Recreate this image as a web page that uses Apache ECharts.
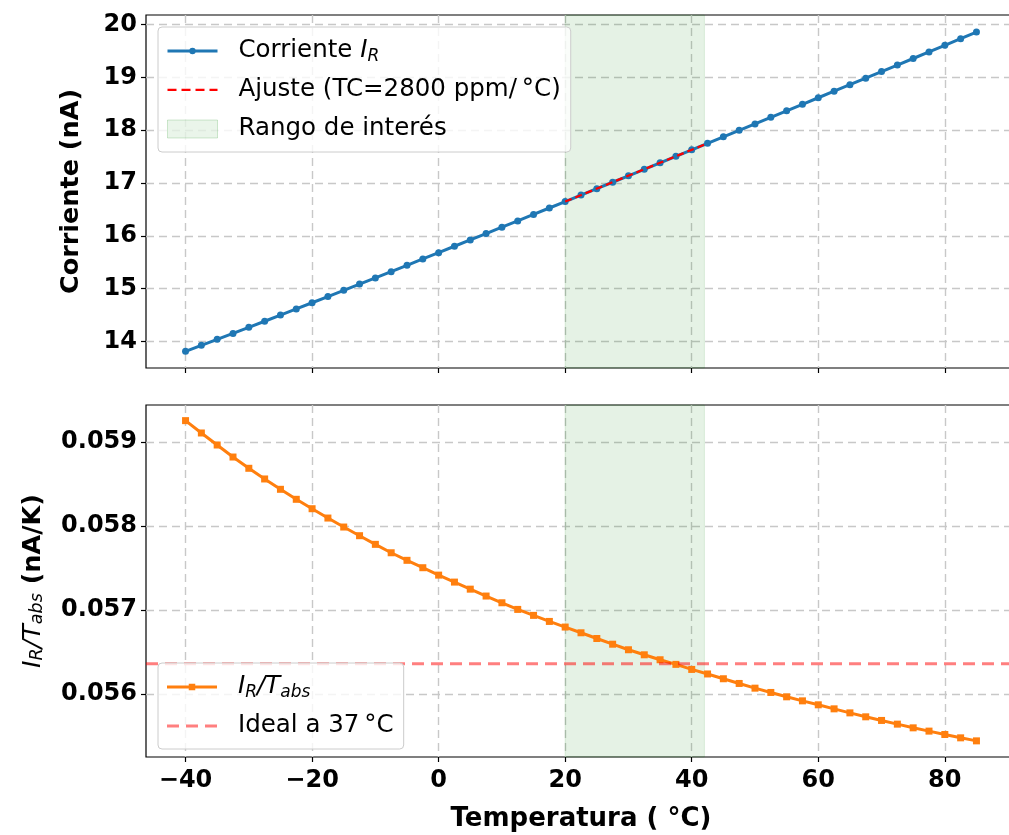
<!DOCTYPE html>
<html>
<head>
<meta charset="utf-8">
<script src="https://cdn.jsdelivr.net/npm/echarts@6/dist/echarts.min.js"></script>
<style>html,body{margin:0;padding:0;background:#fff;overflow:hidden}#main{width:1016px;height:835px}</style>
</head>
<body>
<div id="main"></div>
<script>
// temperatura (°C), corriente (nA) y cociente I_R/T_abs (nA/K)
var temps = [-40, -37.5, -35, -32.5, -30, -27.5, -25, -22.5, -20, -17.5, -15, -12.5, -10, -7.5, -5, -2.5,
  0, 2.5, 5, 7.5, 10, 12.5, 15, 17.5, 20, 22.5, 25, 27.5, 30, 32.5, 35, 37.5, 40, 42.5, 45, 47.5,
  50, 52.5, 55, 57.5, 60, 62.5, 65, 67.5, 70, 72.5, 75, 77.5, 80, 82.5, 85];
var current = [13.815, 13.929, 14.042, 14.155, 14.270, 14.385, 14.501, 14.617, 14.735, 14.852,
  14.970, 15.088, 15.205, 15.323, 15.443, 15.563, 15.683, 15.804, 15.924, 16.044,
  16.164, 16.284, 16.406, 16.528, 16.650, 16.772, 16.894, 17.015, 17.136, 17.259,
  17.382, 17.506, 17.628, 17.752, 17.875, 17.997, 18.119, 18.243, 18.366, 18.490,
  18.614, 18.738, 18.861, 18.984, 19.109, 19.233, 19.357, 19.482, 19.607, 19.731, 19.857];
var ratio = [0.059254, 0.059107, 0.058964, 0.058821, 0.058687, 0.058560, 0.058437, 0.058318, 0.058206, 0.058095,
  0.057988, 0.057885, 0.057782, 0.057682, 0.057592, 0.057504, 0.057416, 0.057333, 0.057249, 0.057167,
  0.057087, 0.057008, 0.056937, 0.056865, 0.056798, 0.056730, 0.056662, 0.056594, 0.056528, 0.056468,
  0.056409, 0.056354, 0.056294, 0.056240, 0.056183, 0.056127, 0.056071, 0.056020, 0.055968, 0.055920,
  0.055873, 0.055825, 0.055777, 0.055730, 0.055687, 0.055643, 0.055599, 0.055560, 0.055520, 0.055480, 0.055444];
var fitTemps = [20, 42];
var fitCurrent = [16.649, 17.727];
var spanRange = [20, 42];
var idealRatio = 0.056361;
var xRange = [-46.25, 91.25];
var xTicks = [-40, -20, 0, 20, 40, 60, 80];
var currentTicks = [14, 15, 16, 17, 18, 19, 20];
var ratioTicks = [0.056, 0.057, 0.058, 0.059];

function pairs(xs, ys) {
  return xs.map(function (x, i) { return [x, ys[i]]; });
}

var myChart = echarts.init(document.getElementById('main'));
var FONT = 'DejaVu Sans';
var gridLine = { show: true, lineStyle: { color: '#c8c8c8', type: [8, 5], width: 1.4 } };
var tickStyle = { color: '#000', width: 1.2 };
var tickFont = { fontFamily: FONT, fontSize: 24, fontWeight: 'bold', color: '#000' };
var LF = 24.5;
var mathRich = {
  i: { fontFamily: FONT, fontStyle: 'italic', fontWeight: 'normal', fontSize: LF, color: '#000' },
  s: { fontFamily: FONT, fontStyle: 'italic', fontWeight: 'normal', fontSize: 17, color: '#000', verticalAlign: 'bottom' }
};
var legendText = {
  'Corriente': 'Corriente {i|I}{s|R}',
  'Ajuste': 'Ajuste (TC=2800 ppm/\u2009°C)',
  'Rango': 'Rango de interés',
  'Cociente': '{i|I}{s|R}{i|/T}{s|abs}',
  'Ideal': 'Ideal a 37\u2009°C'
};
// iconos de leyenda: línea con marcador / líneas discontinuas
var icons = {
  lineDot: 'path://M0,2.25h50v3h-50z M25,0.5a3.25,3.25 0 1,1 0,6.5a3.25,3.25 0 1,1 0,-6.5z',
  lineSquare: 'path://M0,2.25h50v3h-50z M21.75,0.5h6.5v6.5h-6.5z',
  dashFine: 'path://M0,2.5h9v2.2h-9z M14,2.5h9v2.2h-9z M28,2.5h9v2.2h-9z M42,2.5h8v2.2h-8z M0,0h0.01v7.5h-0.01z',
  dashWide: 'path://M0,2.25h12v3h-12z M19,2.25h12v3h-12z M38,2.25h12v3h-12z M0,0h0.01v7.5h-0.01z'
};

function xAxisCfg(idx, withLabels) {
  var ax = {
    type: 'value', gridIndex: idx, min: xRange[0], max: xRange[1], splitNumber: 7,
    axisLine: { show: false, onZero: false },
    axisTick: { show: true, length: 5, lineStyle: tickStyle, customValues: xTicks },
    axisLabel: {
      show: withLabels, customValues: xTicks, margin: 12,
      formatter: function (v) { return v < 0 ? '\u2212' + (-v) : String(v); }
    },
    splitLine: gridLine
  };
  Object.assign(ax.axisLabel, tickFont);
  if (withLabels) {
    ax.name = 'Temperatura ( °C)';
    ax.nameLocation = 'middle';
    ax.nameGap = 49;
    ax.nameTextStyle = { fontFamily: FONT, fontSize: 26, fontWeight: 'bold', color: '#000' };
  }
  return ax;
}

function legendCfg(top, items) {
  return {
    left: 158, top: top, orient: 'vertical', z: 10, selectedMode: false,
    data: items, itemWidth: 50, itemHeight: 18, itemGap: 11,
    padding: [10, 10, 9, 9],
    backgroundColor: 'rgba(255,255,255,0.8)', borderColor: '#cccccc', borderWidth: 1, borderRadius: 4,
    formatter: function (n) { return legendText[n]; },
    textStyle: { fontFamily: FONT, fontSize: LF, color: '#000', lineHeight: 28, padding: [0, 0, 0, 16], rich: mathRich }
  };
}

var noBorder = { borderWidth: 0 };

var option = {
  animation: false,
  backgroundColor: '#fff',
  grid: [
    { left: 146, top: 15, right: 0, height: 353, show: true, borderColor: '#000', borderWidth: 1.2 },
    { left: 146, top: 405, right: 0, height: 352, show: true, borderColor: '#000', borderWidth: 1.2 }
  ],
  xAxis: [xAxisCfg(0, false), xAxisCfg(1, true)],
  yAxis: [
    {
      type: 'value', gridIndex: 0, min: 13.50, max: 20.18, splitNumber: 6,
      axisLine: { show: false, onZero: false },
      axisTick: { show: true, length: 5, lineStyle: tickStyle, customValues: currentTicks },
      axisLabel: Object.assign({ customValues: currentTicks, margin: 9 }, tickFont),
      splitLine: gridLine,
      name: 'Corriente (nA)', nameLocation: 'middle', nameGap: 62,
      nameTextStyle: { fontFamily: FONT, fontSize: 25.5, fontWeight: 'bold', color: '#000' }
    },
    {
      type: 'value', gridIndex: 1, min: 0.055252, max: 0.059440, splitNumber: 4,
      axisLine: { show: false, onZero: false },
      axisTick: { show: true, length: 5, lineStyle: tickStyle, customValues: ratioTicks },
      axisLabel: Object.assign({ customValues: ratioTicks, margin: 9 }, tickFont),
      splitLine: gridLine,
      name: '{i|I}{s|R}{i|/T}{s|abs} {b|(nA/K)}', nameLocation: 'middle', nameGap: 100,
      nameTextStyle: {
        fontFamily: FONT, fontSize: 25.5, fontWeight: 'bold', color: '#000',
        rich: {
          i: { fontFamily: FONT, fontStyle: 'italic', fontWeight: 'normal', fontSize: 25.5, color: '#000' },
          s: { fontFamily: FONT, fontStyle: 'italic', fontWeight: 'normal', fontSize: 17.5, color: '#000', verticalAlign: 'bottom' },
          b: { fontFamily: FONT, fontWeight: 'bold', fontSize: 25.5, color: '#000' }
        }
      }
    }
  ],
  legend: [
    legendCfg(27, [
      { name: 'Corriente', icon: icons.lineDot, itemStyle: noBorder },
      { name: 'Ajuste', icon: icons.dashFine, itemStyle: noBorder },
      { name: 'Rango', icon: 'rect', itemStyle: { color: 'rgba(0,128,0,0.1)', borderColor: 'rgba(0,128,0,0.22)', borderWidth: 1 } }
    ]),
    legendCfg(663, [
      { name: 'Cociente', icon: icons.lineSquare, itemStyle: noBorder },
      { name: 'Ideal', icon: icons.dashWide, itemStyle: noBorder }
    ])
  ],
  series: [
    {
      name: 'Rango', type: 'scatter', xAxisIndex: 0, yAxisIndex: 0, data: [], z: 1,
      itemStyle: { color: 'rgba(0,128,0,0.1)' },
      markArea: {
        silent: true,
        itemStyle: { color: 'rgba(0,128,0,0.1)', borderColor: 'rgba(0,128,0,0.12)', borderWidth: 1 },
        data: [[{ xAxis: spanRange[0] }, { xAxis: spanRange[1] }]]
      }
    },
    {
      name: 'Corriente', type: 'line', xAxisIndex: 0, yAxisIndex: 0, z: 3,
      data: pairs(temps, current),
      symbol: 'circle', symbolSize: 7,
      lineStyle: { color: '#1f77b4', width: 3 },
      itemStyle: { color: '#1f77b4' }
    },
    {
      name: 'Ajuste', type: 'line', xAxisIndex: 0, yAxisIndex: 0, z: 4,
      data: pairs(fitTemps, fitCurrent),
      symbol: 'none',
      lineStyle: { color: '#ff0000', width: 2.2, type: [7, 4] },
      itemStyle: { color: '#ff0000' }
    },
    {
      name: 'Rango2', type: 'scatter', xAxisIndex: 1, yAxisIndex: 1, data: [], z: 1,
      markArea: {
        silent: true,
        itemStyle: { color: 'rgba(0,128,0,0.1)', borderColor: 'rgba(0,128,0,0.12)', borderWidth: 1 },
        data: [[{ xAxis: spanRange[0] }, { xAxis: spanRange[1] }]]
      }
    },
    {
      name: 'Cociente', type: 'line', xAxisIndex: 1, yAxisIndex: 1, z: 3,
      data: pairs(temps, ratio),
      symbol: 'rect', symbolSize: 7,
      lineStyle: { color: '#ff7f0e', width: 3 },
      itemStyle: { color: '#ff7f0e' }
    },
    {
      // línea horizontal de referencia a lo ancho de todo el eje
      name: 'Ideal', type: 'line', xAxisIndex: 1, yAxisIndex: 1, z: 5,
      data: [[xRange[0], idealRatio], [xRange[1], idealRatio]],
      symbol: 'none',
      lineStyle: { color: 'rgba(255,0,0,0.5)', width: 3, type: [12, 7] },
      itemStyle: { color: 'rgba(255,0,0,0.5)' }
    }
  ]
};

myChart.setOption(option);
</script>
</body>
</html>
